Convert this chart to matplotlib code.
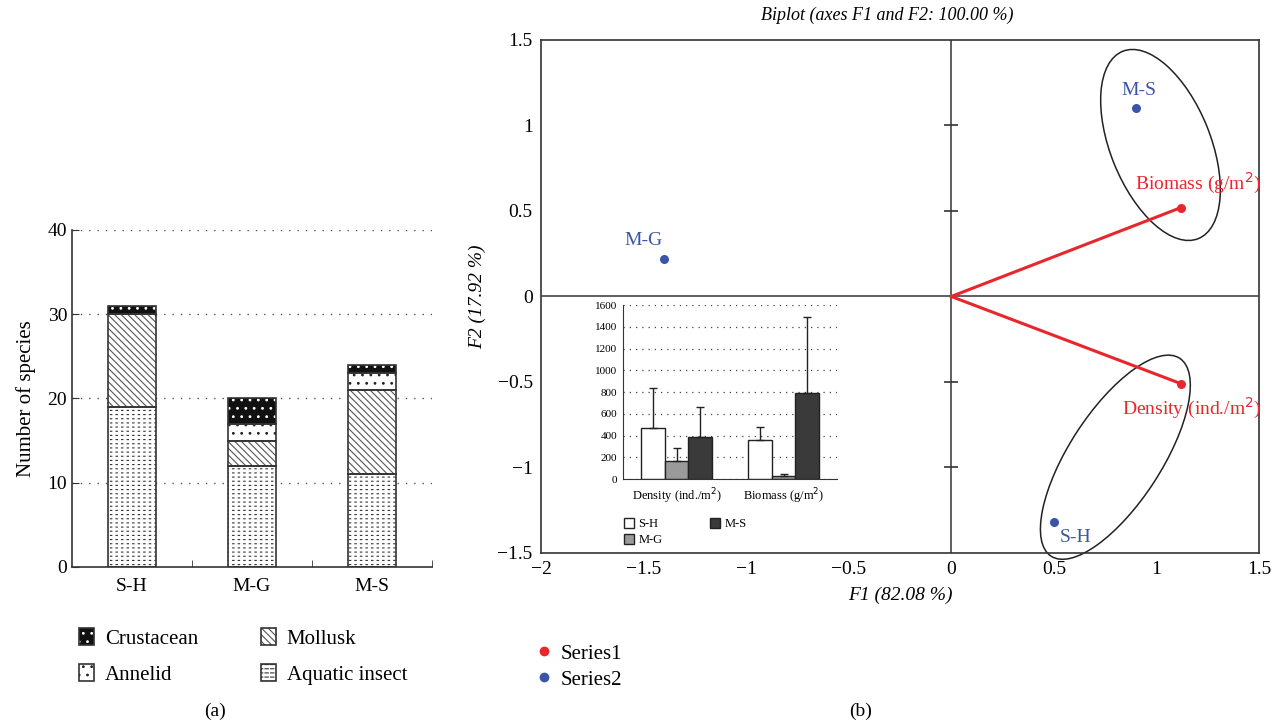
import matplotlib.pyplot as plt
import matplotlib.transforms as mtransforms
from matplotlib.patches import Ellipse, Patch
from matplotlib.lines import Line2D
import numpy as np

plt.rcParams['font.family'] = ['Liberation Serif', 'DejaVu Serif']
plt.rcParams['hatch.linewidth'] = 0.8

# ---- panel (a): number of species
sites = ["S-H", "M-G", "M-S"]
aquatic_insect = [19, 12, 11]
mollusk = [11, 3, 10]
annelid = [0, 2, 2]
crustacean = [1, 3, 1]

# ---- panel (b): biplot
var_names = ["Biomass (g/m$^2$)", "Density (ind./m$^2$)"]
var_f1 = [1.12, 1.12]
var_f2 = [0.52, -0.51]
site_f1 = [0.50, -1.40, 0.90]
site_f2 = [-1.32, 0.22, 1.10]

# ---- inset: density / biomass means and SD
inset_groups = ["Density (ind./m$^2$)", "Biomass (g/m$^2$)"]
mean_sh = [470, 357]
mean_mg = [166, 25]
mean_ms = [385, 788]
sd_sh = [364, 120]
sd_mg = [123, 21]
sd_ms = [280, 701]

RED = '#e8262b'
BLUE = '#3b55a6'

fig = plt.figure(figsize=(12.78, 7.28), dpi=100)

# ================= panel (a)
ax = fig.add_axes([0.0563, 0.2212, 0.2817, 0.4629])
x = np.arange(len(sites))
w = 0.4
# (name, values, face, hatch colour, hatch, optional white break-up hatch)
layers = [
    ("Aquatic insect", aquatic_insect, 'white', '#333333', '----', '|||'),
    ("Mollusk", mollusk, 'white', '#555555', '\\\\\\\\\\', None),
    ("Annelid", annelid, 'white', '#222222', '..', None),
    ("Crustacean", crustacean, '#111111', 'white', '..', None),
]
bottom = np.zeros(len(sites))
handles = {}
for name, vals, fc, hc, hatch, brk in layers:
    vals = np.array(vals, dtype=float)
    ax.bar(x, vals, w, bottom=bottom, color=fc, edgecolor=hc, hatch=hatch, lw=0, zorder=2)
    parts = [Patch(facecolor=fc, edgecolor=hc, hatch=hatch, lw=0)]
    if brk:
        with plt.rc_context({'hatch.linewidth': 2.2}):
            ax.bar(x, vals, w, bottom=bottom, fill=False, edgecolor='white', hatch=brk, lw=0, zorder=2.5)
            parts.append(Patch(fill=False, edgecolor='white', hatch=brk, lw=0))
    ax.bar(x, vals, w, bottom=bottom, fill=False, edgecolor='#333333', lw=1.2, zorder=3)
    parts.append(Patch(fill=False, edgecolor='#333333', lw=1.2))
    bottom += vals
    handles[name] = tuple(parts)

ax.set_xlim(-0.5, 2.5)
ax.set_ylim(0, 40)
ax.set_yticks([0, 10, 20, 30, 40])
ax.set_xticks(x)
ax.set_xticklabels(sites)
ax.set_xticks([0.5, 1.5, 2.5], minor=True)
ax.tick_params(axis='x', which='major', length=0, labelsize=14, pad=8)
ax.tick_params(axis='x', which='minor', direction='in', length=5, color='#333333')
ax.tick_params(axis='y', direction='in', length=5, labelsize=14, color='#333333')
for yv in [10, 20, 30, 40]:
    ax.axhline(yv, color='#555555', ls=(0, (1, 5)), lw=1, zorder=1)
ax.spines['top'].set_visible(False)
ax.spines['right'].set_visible(False)
for s in ['left', 'bottom']:
    ax.spines[s].set_color('#333333')
    ax.spines[s].set_linewidth(1.2)
ax.set_ylabel("Number of species", fontsize=15, labelpad=8)

leg_order = ["Crustacean", "Annelid", "Mollusk", "Aquatic insect"]
fig.legend([handles[n] for n in leg_order], leg_order, ncol=2, frameon=False,
           loc='center left', bbox_to_anchor=(0.047, 0.098), fontsize=15,
           handlelength=0.75, handleheight=0.85, handletextpad=0.5,
           columnspacing=3.0, labelspacing=0.75)
fig.text(0.168, 0.017, "(a)", fontsize=14, ha='center')

# ================= panel (b)
bx = fig.add_axes([0.4233, 0.2404, 0.5618, 0.7047])
bx.set_xlim(-2, 1.5)
bx.set_ylim(-1.5, 1.5)
bx.set_xticks(np.arange(-2, 1.51, 0.5))
bx.set_yticks(np.arange(-1.5, 1.51, 0.5))
bx.set_xticklabels(["\u22122", "\u22121.5", "\u22121", "\u22120.5", "0", "0.5", "1", "1.5"])
bx.set_yticklabels(["\u22121.5", "\u22121", "\u22120.5", "0", "0.5", "1", "1.5"])
bx.tick_params(length=0, labelsize=14, pad=6)
for s in bx.spines.values():
    s.set_color('#333333')
    s.set_linewidth(1.2)
bx.axhline(0, color='#444444', lw=1.2, zorder=1)
bx.axvline(0, color='#444444', lw=1.2, zorder=1)
ty = [v for v in bx.get_yticks() if -1.5 < v < 1.5 and v != 0]
bx.plot(np.zeros(len(ty)), ty, ls='none', marker='_', ms=10, color='#333333', mew=1.2, zorder=1)

for f1, f2 in zip(var_f1, var_f2):
    bx.plot([0, f1], [0, f2], color=RED, lw=2.2, zorder=3)
bx.scatter(var_f1, var_f2, s=30, color=RED, zorder=4)
bx.scatter(site_f1, site_f2, s=30, color=BLUE, zorder=4)

bx.annotate(var_names[0], (var_f1[0], var_f2[0]), xytext=(12, 8), textcoords='offset points',
            ha='center', va='bottom', color=RED, fontsize=14)
bx.annotate(var_names[1], (var_f1[1], var_f2[1]), xytext=(8, -9), textcoords='offset points',
            ha='center', va='top', color=RED, fontsize=14)
site_offsets = [(16, -5), (-15, 7), (2, 7)]
site_va = ['top', 'bottom', 'bottom']
for name, f1, f2, off, va in zip(sites, site_f1, site_f2, site_offsets, site_va):
    bx.annotate(name, (f1, f2), xytext=off, textcoords='offset points',
                ha='center', va=va, color=BLUE, fontsize=14)

# confidence ellipses (sizes in inches, centred in data coords)
ell_centres = [(1.02, 0.886), (0.80, -0.94)]
ell_sizes = [(2.02, 1.00, 112), (2.36, 0.92, 57)]
for (cx, cy), (ew, eh, ang) in zip(ell_centres, ell_sizes):
    tr = fig.dpi_scale_trans + mtransforms.ScaledTranslation(cx, cy, bx.transData)
    bx.add_patch(Ellipse((0, 0), ew, eh, angle=ang, fill=False, edgecolor='#222222',
                         lw=1.1, transform=tr, zorder=2, clip_on=False))

fig.text(0.694, 0.972, "Biplot (axes F1 and F2: 100.00 %)", fontsize=13, style='italic', ha='center')
bx.set_xlabel("F1 (82.08 %)", fontsize=14, style='italic', labelpad=6)
bx.set_ylabel("F2 (17.92 %)", fontsize=14, style='italic', labelpad=8)

ser_h = [Line2D([], [], ls='none', marker='o', ms=6, color=RED),
         Line2D([], [], ls='none', marker='o', ms=6, color=BLUE)]
fig.legend(ser_h, ["Series1", "Series2"], frameon=False, loc='center left',
           bbox_to_anchor=(0.406, 0.084), fontsize=15, handlelength=0.6,
           handletextpad=0.5, labelspacing=0.3)
fig.text(0.673, 0.017, "(b)", fontsize=14, ha='center')

# ================= inset
ix = fig.add_axes([0.4875, 0.342, 0.1675, 0.239])
gx = np.arange(len(inset_groups))
bw = 0.22
err_kw = dict(ecolor='#222222', elinewidth=1, capsize=3, capthick=1)
ix.bar(gx - bw, mean_sh, bw, color='white', edgecolor='#222222', lw=1,
       yerr=[np.zeros(2), sd_sh], error_kw=err_kw, label="S-H", zorder=2)
ix.bar(gx, mean_mg, bw, color='#9a9a9a', edgecolor='#222222', lw=1,
       yerr=[np.zeros(2), sd_mg], error_kw=err_kw, label="M-G", zorder=2)
ix.bar(gx + bw, mean_ms, bw, color='#3a3a3a', edgecolor='#222222', lw=1,
       yerr=[np.zeros(2), sd_ms], error_kw=err_kw, label="M-S", zorder=2)
ix.set_xlim(-0.5, 1.5)
ix.set_ylim(0, 1600)
ix.set_yticks(np.arange(0, 1601, 200))
ix.set_xticks(gx)
ix.set_xticklabels(inset_groups)
ix.tick_params(axis='y', length=0, labelsize=8, pad=4)
ix.tick_params(axis='x', length=0, labelsize=9, pad=5)
ix.yaxis.grid(True, color='#444444', ls=(0, (1, 4)), lw=0.9)
ix.set_axisbelow(True)
ix.spines['top'].set_visible(False)
ix.spines['right'].set_visible(False)
for s in ['left', 'bottom']:
    ix.spines[s].set_color('#333333')
ix.patch.set_alpha(0)
ih, il = ix.get_legend_handles_labels()
ix.legend(ih, il, ncol=2, frameon=False, loc='upper left', bbox_to_anchor=(-0.05, -0.16),
          fontsize=9, handlelength=0.8, handleheight=0.8, handletextpad=0.4,
          columnspacing=3.8, labelspacing=0.3)

fig.savefig("out.png", dpi=100)
